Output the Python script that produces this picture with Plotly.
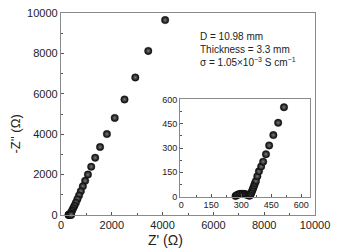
import plotly.graph_objects as go

# Main Nyquist data (Z', -Z'') in ohm
zre = [4100, 3435, 2925, 2500, 2115, 1808, 1538, 1346, 1190, 1060, 950, 860, 780,
       710, 645, 585, 530, 480, 440, 405, 375, 350, 330, 310, 295, 320, 360, 400]
zim = [9650, 8125, 6810, 5720, 4808, 4006, 3365, 2836, 2390, 2000, 1690, 1420, 1180,
       970, 780, 610, 460, 330, 220, 140, 80, 40, 20, 10, 5, 8, 10, 6]

# Inset (zoom of high-frequency region)
ix = [272, 278, 285, 292, 300, 308, 316, 323, 330, 336, 341, 345, 349, 353, 357,
      361, 365, 369, 374, 381, 389, 400, 410, 424, 440, 461, 485, 514]
iy = [4, 9, 13, 16, 17, 17, 16, 14, 11, 8, 6, 8, 18, 30, 42, 55, 68, 82, 97, 126,
      156, 186, 216, 262, 316, 380, 456, 552]

main_ticks = [0, 2000, 4000, 6000, 8000, 10000]
main_labels = ["0", "2000", "4000", "6000", "8000", "10000"]
inset_ticks = [0, 150, 300, 450, 600]
inset_labels = ["0", "150", "300", "450", "600"]

marker = dict(size=7.5, color="#000000", line=dict(width=0.4, color="#222222"),
              gradient=dict(type="radial", color="#7a7a7a"))

fig = go.Figure()
fig.add_trace(go.Scatter(x=zre, y=zim, mode="markers", marker=marker,
                         cliponaxis=False, xaxis="x", yaxis="y", showlegend=False))
fig.add_trace(go.Scatter(x=ix, y=iy, mode="markers", marker=marker,
                         cliponaxis=False, xaxis="x2", yaxis="y2", showlegend=False))

font = "Liberation Sans, Arial, sans-serif"
axcommon = dict(showgrid=False, zeroline=False, showline=True, mirror=True,
                linecolor="#8a8a8a", linewidth=1.3, ticks="inside", ticklen=3,
                tickcolor="#555555", tickfont=dict(family=font, size=11, color="#222"))
inset_common = {**axcommon, "linewidth": 1,
                "tickfont": dict(family=font, size=9, color="#222")}

fig.update_layout(
    width=337, height=251,
    margin=dict(l=61, r=16, t=7, b=36),
    plot_bgcolor="white", paper_bgcolor="white",
    xaxis=dict(range=[0, 10000], tickvals=main_ticks, ticktext=main_labels, domain=[0, 1],
               minor=dict(ticks="inside", ticklen=2, dtick=1000, tickcolor="#555"),
               **axcommon),
    yaxis=dict(range=[0, 10000], tickvals=main_ticks, ticktext=main_labels, domain=[0, 1],
               minor=dict(ticks="inside", ticklen=2, dtick=1000, tickcolor="#555"),
               **axcommon),
    xaxis2=dict(range=[-5, 645], tickvals=inset_ticks, ticktext=inset_labels,
                domain=[0.469, 0.981], anchor="y2",
                minor=dict(ticks="inside", ticklen=2, dtick=75, tickcolor="#555"),
                **inset_common),
    yaxis2=dict(range=[0, 600], tickvals=inset_ticks, ticktext=inset_labels,
                domain=[0.091, 0.572], anchor="x2",
                minor=dict(ticks="inside", ticklen=2, dtick=75, tickcolor="#555"),
                **inset_common),
    font=dict(family=font, color="#222"),
)

fig.add_annotation(text="Z' (Ω)", xref="paper", yref="paper", x=0.41, y=-0.125,
                   xanchor="center", yanchor="middle", showarrow=False,
                   font=dict(family=font, size=14, color="#222"))
fig.add_annotation(text="-Z'' (Ω)", xref="paper", yref="paper", x=-0.18, y=0.40,
                   xanchor="center", yanchor="middle", textangle=-90, showarrow=False,
                   font=dict(family=font, size=13, color="#222"))
fig.add_annotation(text="D = 10.98 mm<br>Thickness = 3.3 mm<br>σ = 1.05×10<sup>−3</sup> S cm<sup>−1</sup>",
                   xref="paper", yref="paper", x=0.54, y=0.82, xanchor="left", yanchor="middle",
                   align="left", showarrow=False,
                   font=dict(family=font, size=10, color="#222"))

fig.write_html("out.html")
